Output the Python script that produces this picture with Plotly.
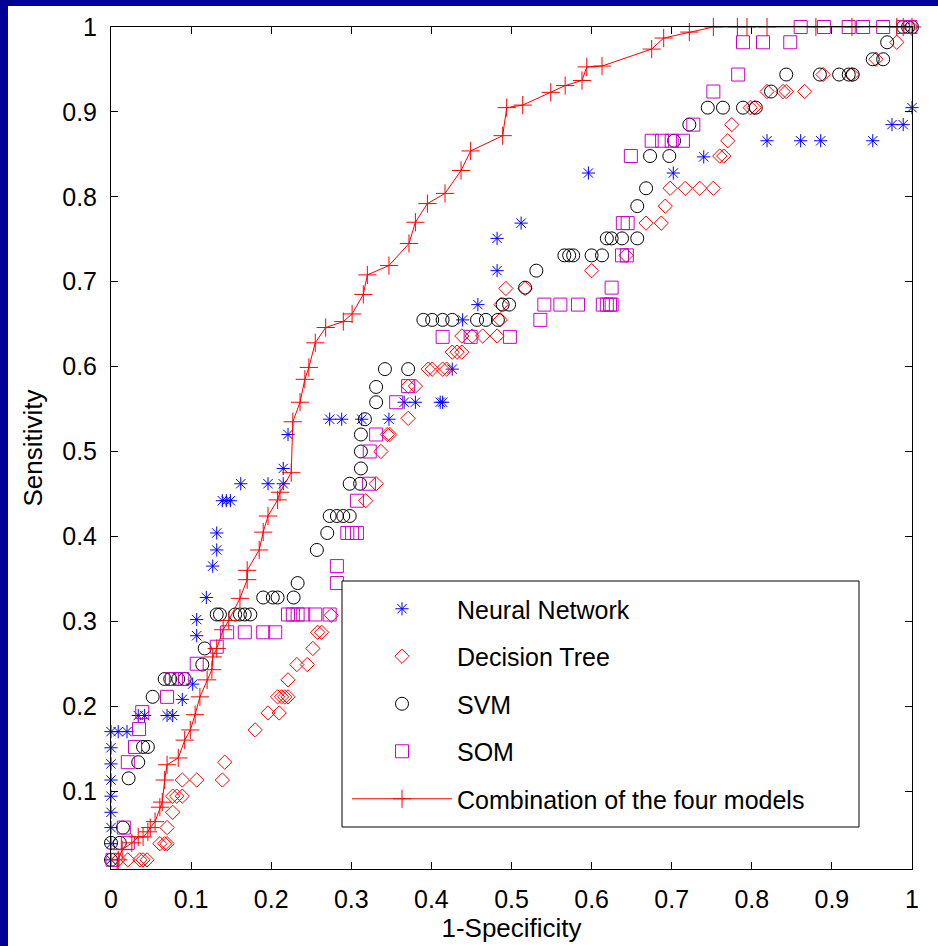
import plotly.graph_objects as go

# ---- data (x = 1-Specificity, y = Sensitivity) ----
nn_x = [0, 0, 0, 0, 0, 0, 0, 0, 0, 0.009, 0.020, 0.034, 0.042, 0.070, 0.077, 0.089, 0.102,
        0.107, 0.107, 0.119, 0.127, 0.132, 0.132, 0.139, 0.144, 0.149, 0.162, 0.196, 0.215,
        0.215, 0.221, 0.273, 0.288, 0.313, 0.347, 0.366, 0.380, 0.411, 0.414, 0.426, 0.439,
        0.458, 0.482, 0.482, 0.512, 0.596, 0.702, 0.740, 0.819, 0.861, 0.886, 0.951, 0.975,
        0.989, 1.000]
nn_y = [0.019, 0.038, 0.057, 0.075, 0.094, 0.113, 0.132, 0.151, 0.170, 0.170, 0.170, 0.189,
        0.189, 0.189, 0.189, 0.208, 0.226, 0.283, 0.302, 0.328, 0.365, 0.384, 0.404, 0.442,
        0.442, 0.442, 0.462, 0.462, 0.462, 0.480, 0.520, 0.538, 0.538, 0.538, 0.538, 0.558,
        0.558, 0.558, 0.558, 0.597, 0.655, 0.673, 0.713, 0.751, 0.769, 0.828, 0.828, 0.847,
        0.866, 0.866, 0.866, 0.866, 0.885, 0.885, 0.905]

dt_x = [0.009, 0.021, 0.036, 0.040, 0.045, 0.061, 0.067, 0.070, 0.070, 0.077, 0.077, 0.082,
        0.089, 0.089, 0.107, 0.139, 0.142, 0.180, 0.196, 0.210, 0.208, 0.213, 0.217, 0.221,
        0.221, 0.232, 0.245, 0.252, 0.258, 0.263, 0.275, 0.318, 0.331, 0.337, 0.345, 0.348,
        0.371, 0.371, 0.380, 0.396, 0.401, 0.414, 0.419, 0.426, 0.432, 0.438, 0.438, 0.451,
        0.464, 0.482, 0.486, 0.487, 0.493, 0.517, 0.600, 0.643, 0.668, 0.687, 0.692, 0.698,
        0.717, 0.735, 0.752, 0.760, 0.765, 0.770, 0.775, 0.798, 0.803, 0.819, 0.839, 0.843,
        0.866, 0.889, 0.925, 0.955, 0.981, 0.998]
dt_y = [0.019, 0.019, 0.019, 0.019, 0.019, 0.038, 0.038, 0.038, 0.057, 0.075, 0.094, 0.094,
        0.094, 0.113, 0.113, 0.113, 0.134, 0.172, 0.192, 0.192, 0.211, 0.211, 0.211, 0.211,
        0.231, 0.249, 0.249, 0.268, 0.287, 0.287, 0.307, 0.442, 0.462, 0.500, 0.520, 0.520,
        0.539, 0.577, 0.577, 0.597, 0.597, 0.597, 0.597, 0.617, 0.617, 0.617, 0.636, 0.636,
        0.636, 0.636, 0.655, 0.673, 0.692, 0.692, 0.713, 0.731, 0.769, 0.769, 0.789, 0.810,
        0.810, 0.810, 0.810, 0.848, 0.848, 0.866, 0.885, 0.905, 0.905, 0.924, 0.924, 0.924,
        0.924, 0.944, 0.944, 0.962, 0.982, 1.000]

svm_x = [0, 0, 0.011, 0.015, 0.022, 0.034, 0.040, 0.046, 0.052, 0.067, 0.074, 0.084, 0.092,
         0.114, 0.117, 0.132, 0.136, 0.155, 0.161, 0.167, 0.174, 0.190, 0.202, 0.208, 0.228,
         0.233, 0.257, 0.270, 0.273, 0.282, 0.290, 0.298, 0.298, 0.311, 0.312, 0.312, 0.312,
         0.317, 0.331, 0.331, 0.342, 0.371, 0.390, 0.401, 0.414, 0.426, 0.457, 0.468, 0.483,
         0.489, 0.497, 0.517, 0.531, 0.566, 0.572, 0.577, 0.600, 0.613, 0.619, 0.625, 0.638,
         0.657, 0.657, 0.668, 0.673, 0.697, 0.703, 0.722, 0.745, 0.764, 0.789, 0.805, 0.824,
         0.843, 0.885, 0.909, 0.921, 0.926, 0.951, 0.964, 0.969, 0.989, 0.995, 1.000]
svm_y = [0.019, 0.039, 0.039, 0.057, 0.115, 0.134, 0.152, 0.152, 0.211, 0.232, 0.232, 0.232,
         0.232, 0.249, 0.268, 0.308, 0.308, 0.308, 0.308, 0.308, 0.308, 0.328, 0.328, 0.328,
         0.328, 0.345, 0.384, 0.404, 0.424, 0.424, 0.424, 0.424, 0.462, 0.462, 0.480, 0.500,
         0.520, 0.538, 0.558, 0.576, 0.597, 0.597, 0.655, 0.655, 0.655, 0.655, 0.655, 0.655,
         0.655, 0.673, 0.673, 0.693, 0.713, 0.731, 0.731, 0.731, 0.731, 0.731, 0.751, 0.751,
         0.751, 0.751, 0.789, 0.810, 0.848, 0.848, 0.866, 0.885, 0.905, 0.905, 0.905, 0.905,
         0.924, 0.944, 0.944, 0.944, 0.944, 0.944, 0.962, 0.962, 0.982, 1.000, 1.000, 1.000]

som_x = [0.002, 0.021, 0.016, 0.021, 0.030, 0.035, 0.039, 0.070, 0.076, 0.081, 0.089, 0.107,
         0.132, 0.145, 0.167, 0.190, 0.205, 0.221, 0.227, 0.233, 0.240, 0.255, 0.273, 0.282,
         0.282, 0.295, 0.301, 0.307, 0.307, 0.322, 0.323, 0.331, 0.356, 0.371, 0.414, 0.449,
         0.498, 0.536, 0.541, 0.561, 0.583, 0.614, 0.619, 0.623, 0.625, 0.625, 0.638, 0.644,
         0.639, 0.645, 0.649, 0.675, 0.688, 0.700, 0.714, 0.727, 0.752, 0.783, 0.789, 0.814,
         0.848, 0.861, 0.890, 0.921, 0.939, 0.964, 0.989, 0.998]
som_y = [0.019, 0.039, 0.057, 0.134, 0.152, 0.173, 0.193, 0.211, 0.232, 0.232, 0.232, 0.250,
         0.270, 0.287, 0.287, 0.287, 0.287, 0.308, 0.308, 0.308, 0.308, 0.308, 0.308, 0.345,
         0.365, 0.404, 0.404, 0.404, 0.442, 0.462, 0.500, 0.520, 0.558, 0.577, 0.635, 0.635,
         0.635, 0.655, 0.673, 0.673, 0.673, 0.673, 0.673, 0.673, 0.673, 0.693, 0.731, 0.731,
         0.769, 0.769, 0.848, 0.866, 0.866, 0.866, 0.866, 0.885, 0.924, 0.944, 0.982, 0.982,
         0.982, 1.000, 1.000, 1.000, 1.000, 1.000, 1.000, 1.000]

comb_x = [0.007, 0.009, 0.014, 0.026, 0.034, 0.040, 0.046, 0.049, 0.055, 0.061, 0.064, 0.067,
          0.070, 0.084, 0.092, 0.099, 0.105, 0.111, 0.120, 0.126, 0.127, 0.132, 0.140, 0.147,
          0.161, 0.170, 0.170, 0.185, 0.190, 0.196, 0.208, 0.211, 0.225, 0.227, 0.236, 0.242,
          0.247, 0.255, 0.268, 0.290, 0.301, 0.315, 0.320, 0.347, 0.372, 0.380, 0.395, 0.417,
          0.437, 0.449, 0.489, 0.494, 0.514, 0.549, 0.567, 0.588, 0.594, 0.613, 0.675, 0.690,
          0.722, 0.752, 0.782, 0.794, 0.819, 0.880, 0.925, 0.981, 0.989, 1.000]
comb_y = [0.005, 0.019, 0.031, 0.039, 0.046, 0.046, 0.052, 0.057, 0.064, 0.081, 0.087, 0.113,
          0.131, 0.139, 0.160, 0.172, 0.190, 0.211, 0.231, 0.243, 0.258, 0.268, 0.290, 0.301,
          0.327, 0.349, 0.360, 0.384, 0.405, 0.424, 0.443, 0.452, 0.475, 0.535, 0.558, 0.585,
          0.599, 0.628, 0.646, 0.653, 0.662, 0.685, 0.708, 0.719, 0.745, 0.770, 0.792, 0.804,
          0.831, 0.854, 0.872, 0.905, 0.908, 0.923, 0.931, 0.937, 0.953, 0.954, 0.974, 0.987,
          0.994, 1.000, 1.000, 1.000, 1.000, 1.000, 1.000, 1.000, 1.000, 1.000]

x_ticks = [0, 0.1, 0.2, 0.3, 0.4, 0.5, 0.6, 0.7, 0.8, 0.9, 1]
x_tick_labels = ["0", "0.1", "0.2", "0.3", "0.4", "0.5", "0.6", "0.7", "0.8", "0.9", "1"]
y_ticks = [0.1, 0.2, 0.3, 0.4, 0.5, 0.6, 0.7, 0.8, 0.9, 1]
y_tick_labels = ["0.1", "0.2", "0.3", "0.4", "0.5", "0.6", "0.7", "0.8", "0.9", "1"]

names = ["Neural Network", "Decision Tree", "SVM", "SOM", "Combination of the four models"]

FONT = "Liberation Sans, Arial, Helvetica, sans-serif"
NAVY = "#000099"

fig = go.Figure()
series = [
    (nn_x, nn_y, "asterisk-open", "#0000FF", 11),
    (dt_x, dt_y, "diamond-open", "#FF0000", 11),
    (svm_x, svm_y, "circle-open", "#000000", 13),
    (som_x, som_y, "square-open", "#CC00CC", 13),
]
for i, (xs, ys, sym, col, sz) in enumerate(series):
    fig.add_trace(go.Scatter(
        x=xs, y=ys, mode="markers", name=names[i], legendgroup=str(i),
        marker=dict(symbol=sym, color=col, size=sz, line=dict(color=col, width=1)),
        cliponaxis=False,
    ))
fig.add_trace(go.Scatter(
    x=comb_x, y=comb_y, mode="lines+markers", name=names[4], legendgroup="4",
    line=dict(color="#FF0000", width=1),
    marker=dict(symbol="cross-thin-open", color="#FF0000", size=13,
                line=dict(color="#FF0000", width=1)),
    cliponaxis=False,
))

W, H = 938, 946
L, R, T, B = 111, 26, 27, 77
pw, ph = W - L - R, H - T - B


def px_x(p):
    return (p - L) / pw


def px_y(p):
    return (H - B - p) / ph


shapes = [
    # navy slide border (left and top)
    dict(type="rect", xref="paper", yref="paper", x0=px_x(0), x1=px_x(8), y0=px_y(H), y1=px_y(0),
         fillcolor=NAVY, line=dict(width=0), layer="below"),
    dict(type="rect", xref="paper", yref="paper", x0=px_x(0), x1=px_x(W), y0=px_y(6), y1=px_y(0),
         fillcolor=NAVY, line=dict(width=0), layer="below"),
    # legend box
    dict(type="rect", xref="paper", yref="paper", x0=px_x(342), x1=px_x(859), y0=px_y(827),
         y1=px_y(581), fillcolor="white", line=dict(color="black", width=1), layer="above"),
]

axis_common = dict(
    showline=True, linecolor="black", linewidth=1, mirror="ticks",
    ticks="inside", ticklen=7, tickwidth=1, tickcolor="black",
    showgrid=False, zeroline=False, tickfont=dict(family=FONT, size=25, color="black"),
    ticklabelstandoff=8,
)

fig.update_layout(
    width=W, height=H,
    margin=dict(l=L, r=R, t=T, b=B, autoexpand=False),
    paper_bgcolor="white", plot_bgcolor="white",
    font=dict(family=FONT, size=25, color="black"),
    shapes=shapes,
    showlegend=True,
    legend=dict(
        x=px_x(347), y=px_y(586), xanchor="left", yanchor="top",
        bgcolor="rgba(0,0,0,0)", borderwidth=0,
        font=dict(family=FONT, size=25, color="black"),
        itemwidth=100, tracegroupgap=12, traceorder="grouped",
    ),
    xaxis=dict(range=[0, 1], tickvals=x_ticks, ticktext=x_tick_labels,
               title=dict(text="1-Specificity", font=dict(family=FONT, size=26), standoff=5),
               **axis_common),
    yaxis=dict(range=[0.0082, 1], tickvals=y_ticks, ticktext=y_tick_labels,
               title=dict(text="Sensitivity", font=dict(family=FONT, size=26), standoff=12),
               **axis_common),
)

fig.write_html(
    "out.html",
    config={"displayModeBar": False},
    post_script="document.documentElement.style.margin='0';"
                "document.documentElement.style.overflow='hidden';"
                "document.documentElement.style.background='white';"
                "document.body.style.margin='0';document.body.style.padding='0';"
                "document.body.style.overflow='hidden';document.body.style.background='white';",
)
